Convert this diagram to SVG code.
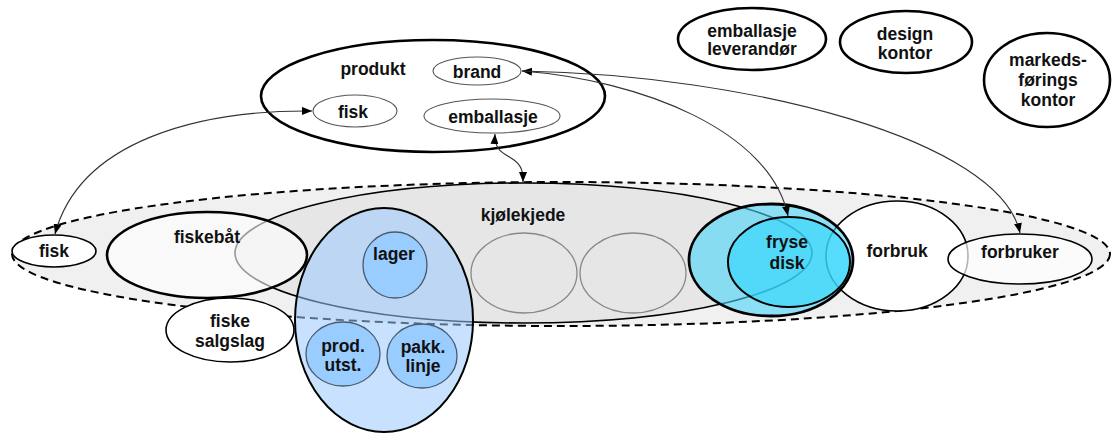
<svg xmlns="http://www.w3.org/2000/svg" width="1113" height="434" viewBox="0 0 1113 434">
  <style>
    text { font-family: "Liberation Sans", Arial, sans-serif; font-weight: bold; font-size: 17.5px; fill: #111; text-anchor: middle; }
    .thick { stroke: #000; stroke-width: 2.6; }
    .mid { stroke: #000; stroke-width: 1.6; }
    .thin { stroke: #555; stroke-width: 1.1; fill: #fff; }
    .slot { fill: none; stroke: #888; stroke-width: 1.3; }
    .unit { fill: #99ccff; stroke: #4a5a6a; stroke-width: 1.3; }
    .link { fill: none; stroke: #333; stroke-width: 1.1; }
  </style>
  <defs>
    <marker id="arrow" viewBox="0 0 10 8" refX="10" refY="4" markerWidth="10" markerHeight="8" markerUnits="userSpaceOnUse" orient="auto-start-reverse">
      <path d="M0,0 L10,4 L0,8 z" fill="#000"/>
    </marker>
  </defs>

  <rect width="1113" height="434" fill="#fff"/>

  <!-- value chain envelope -->
  <g id="verdikjede">
    <ellipse cx="561" cy="254" rx="549" ry="72" fill="#f0f0f0" stroke="#000" stroke-width="2" stroke-dasharray="8 5"/>
  </g>

  <!-- cold chain -->
  <g id="kjolekjede">
    <ellipse cx="523.5" cy="253" rx="288.5" ry="70" fill="#e6e6e6" class="mid"/>
    <text x="523" y="221">kjølekjede</text>
  </g>
  <g id="ledd1"><ellipse class="slot" cx="524" cy="273" rx="53" ry="40"/></g>
  <g id="ledd2"><ellipse class="slot" cx="633" cy="273" rx="53" ry="40"/></g>

  <g id="fisk-raastoff">
    <ellipse cx="54" cy="251" rx="42" ry="16" fill="#fff" class="mid"/>
    <text x="54" y="257">fisk</text>
  </g>

  <g id="fiskebat">
    <ellipse cx="207" cy="255" rx="100" ry="43" fill="#fff" fill-opacity="0.6" class="thick"/>
    <text x="207" y="243">fiskebåt</text>
  </g>

  <g id="fiskesalgslag">
    <ellipse cx="230" cy="330" rx="64" ry="32" fill="#fff" class="mid"/>
    <text x="230" y="327">fiske</text>
    <text x="230" y="347">salgslag</text>
  </g>

  <!-- processing plant -->
  <g id="anlegg">
    <ellipse cx="384" cy="320" rx="89" ry="112" fill="#99c8ff" fill-opacity="0.55" stroke="#000" stroke-width="2"/>
  </g>
  <g id="lager">
    <ellipse class="unit" cx="395" cy="265" rx="32" ry="33"/>
    <text x="394" y="260">lager</text>
  </g>
  <g id="prod-utst">
    <ellipse class="unit" cx="343" cy="354" rx="37" ry="32"/>
    <text x="343" y="352">prod.</text>
    <text x="343" y="371">utst.</text>
  </g>
  <g id="pakkelinje">
    <ellipse class="unit" cx="422" cy="356" rx="35" ry="32"/>
    <text x="423" y="353">pakk.</text>
    <text x="423" y="372">linje</text>
  </g>

  <g id="forbruk">
    <ellipse cx="897" cy="256" rx="71" ry="55" fill="#fff" class="mid"/>
    <text x="897" y="257">forbruk</text>
  </g>

  <!-- freezer counter -->
  <g id="frysedisk">
    <ellipse cx="771" cy="260" rx="82" ry="56" fill="#49d5fa" fill-opacity="0.6" stroke="#000" stroke-width="2.8"/>
    <ellipse cx="789" cy="262" rx="61" ry="45" fill="#2ed5fc" fill-opacity="0.6" stroke="#000" stroke-width="2"/>
    <text x="787" y="248">fryse</text>
    <text x="787" y="269">disk</text>
  </g>

  <g id="forbruker">
    <ellipse cx="1020" cy="259" rx="72" ry="25" fill="#fff" fill-opacity="0.7" class="mid"/>
    <text x="1020" y="258">forbruker</text>
  </g>

  <!-- product -->
  <g id="produkt">
    <ellipse cx="433" cy="96" rx="172" ry="56" fill="#fff" class="thick"/>
    <text x="373" y="75">produkt</text>
  </g>
  <g id="brand">
    <ellipse class="thin" cx="477" cy="71" rx="44" ry="14"/>
    <text x="477" y="78">brand</text>
  </g>
  <g id="fisk-produkt">
    <ellipse class="thin" cx="355" cy="111" rx="42" ry="16"/>
    <text x="353" y="118">fisk</text>
  </g>
  <g id="emballasje">
    <ellipse class="thin" cx="492" cy="116" rx="68" ry="17"/>
    <text x="493" y="123">emballasje</text>
  </g>

  <!-- external actors -->
  <g id="emballasjeleverandor">
    <ellipse cx="752" cy="39" rx="74" ry="31" fill="#fff" class="thick"/>
    <text x="752" y="37">emballasje</text>
    <text x="752" y="55">leverandør</text>
  </g>
  <g id="designkontor">
    <ellipse cx="906" cy="42" rx="66" ry="31" fill="#fff" class="thick"/>
    <text x="905" y="40">design</text>
    <text x="905" y="59">kontor</text>
  </g>
  <g id="markedsforingskontor">
    <ellipse cx="1047" cy="80" rx="63" ry="47" fill="#fff" class="thick"/>
    <text x="1048" y="66">markeds-</text>
    <text x="1048" y="86">førings</text>
    <text x="1048" y="106">kontor</text>
  </g>

  <!-- connectors -->
  <g id="connectors">
    <path class="link" d="M 55 234 C 80 140, 200 110, 312 111" marker-start="url(#arrow)" marker-end="url(#arrow)"/>
    <path class="link" d="M 495 134 C 494 152, 506 154, 514 160 C 522 166, 523 172, 523 182" marker-start="url(#arrow)" marker-end="url(#arrow)"/>
    <path class="link" d="M 522 71 C 640 80, 770 130, 788 216" marker-start="url(#arrow)" marker-end="url(#arrow)"/>
    <path class="link" d="M 522 71 C 750 75, 1000 140, 1020 233" marker-end="url(#arrow)"/>
  </g>
</svg>
